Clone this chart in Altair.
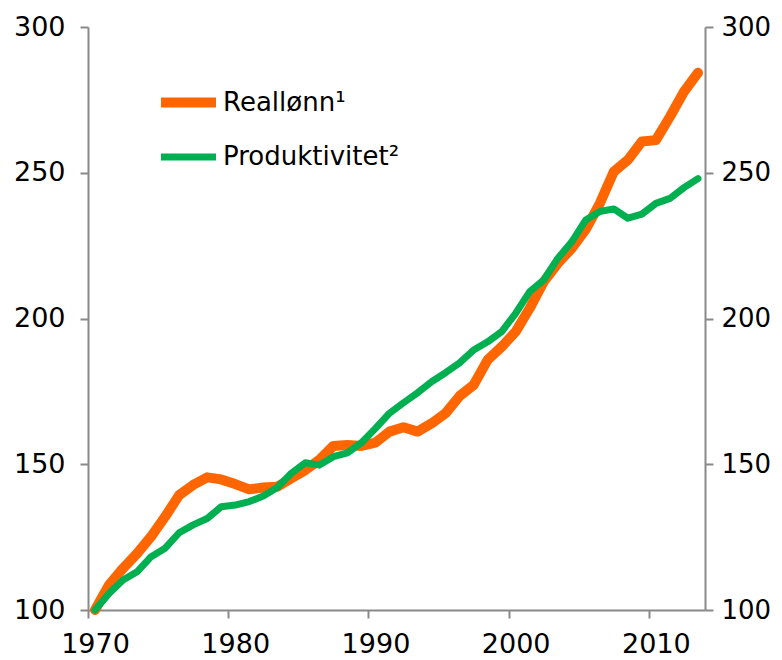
import altair as alt
import pandas as pd

years = list(range(1970, 2014))
reallonn = [100, 108.6, 114.3, 119.4, 125.2, 132.0, 139.4, 142.9, 145.5, 144.8,
            143.2, 141.4, 142.0, 142.3, 145.2, 148.0, 151.5, 156.3, 156.6, 156.3,
            157.4, 161.2, 162.7, 161.2, 164.0, 167.5, 173.4, 177.2, 185.8, 190.3,
            195.5, 203.5, 212.6, 218.9, 224.1, 230.6, 239.5, 250.4, 254.4, 260.7,
            261.2, 269.2, 277.8, 284.3]
produktivitet = [100, 105.7, 110.3, 113.1, 118.3, 121.2, 126.5, 129.2, 131.4, 135.4,
                 136.0, 137.2, 139.1, 142.0, 146.9, 150.5, 149.7, 152.6, 153.9, 157.4,
                 162.3, 167.5, 171.1, 174.5, 178.3, 181.4, 184.8, 189.2, 192.0, 195.5,
                 201.8, 209.2, 213.2, 220.6, 226.3, 233.8, 236.7, 237.6, 234.4, 235.8,
                 239.5, 241.2, 244.9, 248.0]
series_names = ["Reallønn¹", "Produktivitet²"]
series_colors = ["#FF6600", "#00B050"]
x_tick_values = [1969.5, 1979.5, 1989.5, 1999.5, 2009.5]
y_tick_values = [100, 150, 200, 250, 300]

df = pd.DataFrame({
    "year": years * 2,
    "value": reallonn + produktivitet,
    "series": [series_names[0]] * len(years) + [series_names[1]] * len(years),
})

FONT = "DejaVu Sans"
AX = "#898989"
FS = 27

xenc = alt.X("year:Q", scale=alt.Scale(domain=[1969.5, 2013.5], nice=False, zero=False),
             axis=alt.Axis(values=x_tick_values, labelExpr="datum.value + 0.5",
                           labelOffset=7, title=None, grid=False, domainColor=AX,
                           domainWidth=2, tickColor=AX, tickWidth=2, tickSize=8,
                           labelFontSize=FS, labelFont=FONT, labelColor="#000000",
                           labelPadding=13, labelFlush=False))

yscale = alt.Scale(domain=[100, 300], nice=False, zero=False)

def yaxis(orient, pad, fs):
    return alt.Axis(values=y_tick_values, orient=orient, title=None, grid=False,
                    domainColor=AX, domainWidth=2, tickColor=AX, tickWidth=2,
                    tickSize=8, labelFontSize=fs, labelFont=FONT, labelColor="#000000",
                    labelPadding=pad)

color = alt.Color("series:N", scale=alt.Scale(domain=series_names, range=series_colors),
                  legend=alt.Legend(orient="none", legendX=68, legendY=43, title=None,
                                    symbolType="stroke", symbolSize=3025,
                                    symbolStrokeWidth=9, labelFontSize=26,
                                    labelFont=FONT, labelColor="#000000",
                                    labelOffset=2, rowPadding=3, padding=0,
                                    labelLimit=0))
width_enc = alt.StrokeWidth("series:N", scale=alt.Scale(domain=series_names, range=[10, 7]),
                            legend=None)

base = alt.Chart(df)
orange = base.transform_filter(alt.datum.series == series_names[0]).mark_line(
    strokeCap="round", strokeJoin="round").encode(
    x=xenc, y=alt.Y("value:Q", scale=yscale, axis=yaxis("left", 15, FS)),
    color=color, strokeWidth=width_enc)
green = base.transform_filter(alt.datum.series == series_names[1]).mark_line(
    strokeCap="round", strokeJoin="round").encode(
    x=xenc, y=alt.Y("value:Q", scale=yscale, axis=yaxis("left", 15, FS)),
    color=color, strokeWidth=width_enc)
right = base.transform_filter(alt.datum.series == series_names[1]).mark_line(
    opacity=0).encode(
    x=xenc, y=alt.Y("value:Q", scale=yscale, axis=yaxis("right", 8, 26)))

chart = alt.layer(alt.layer(orange, green), right).resolve_scale(y="independent").properties(
    width=617, height=583,
    autosize=alt.AutoSizeParams(type="none"),
    padding={"left": 80, "top": 19, "right": 69, "bottom": 50},
).configure_view(stroke=None)

chart.save("out.html", embed_options={"renderer": "svg", "actions": False})
